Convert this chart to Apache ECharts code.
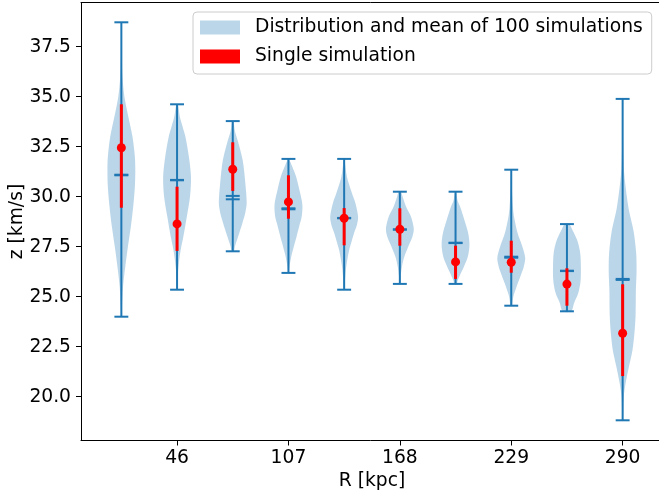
<!DOCTYPE html>
<html>
<head>
<meta charset="utf-8">
<script src="https://cdn.jsdelivr.net/npm/echarts@6/dist/echarts.min.js"></script>
<style>html,body{margin:0;padding:0;background:#fff;}#c{width:659px;height:492px;}</style>
</head>
<body>
<div id="c"></div>
<script>
// ---- data ----
const positions = [15.5, 46, 76.5, 107, 137.5, 168, 198.5, 229, 259.5, 290];
const xTickLabels = [46, 107, 168, 229, 290];
const yTickLabels = [20.0, 22.5, 25.0, 27.5, 30.0, 32.5, 35.0, 37.5];
const mins    = [24.00, 25.35, 27.27, 26.19, 25.35, 25.64, 25.64, 24.55, 24.27, 18.82];
const maxs    = [38.72, 34.62, 33.78, 31.89, 31.89, 30.25, 30.25, 31.35, 28.63, 34.89];
const means   = [31.07, 30.84, 30.04, 29.42, 28.92, 28.37, 27.70, 27.00, 26.30, 25.89];
const medians = [31.10, 30.82, 29.87, 29.37, 28.94, 28.35, 27.68, 26.95, 26.28, 25.84];
const singleValues = [32.45, 28.64, 31.37, 29.74, 28.92, 28.37, 26.74, 26.72, 25.63, 23.17];
const singleLow    = [29.45, 27.29, 30.29, 28.90, 27.57, 27.55, 25.89, 26.20, 24.55, 21.03];
const singleHigh   = [34.62, 30.50, 32.72, 31.07, 29.43, 29.42, 27.55, 27.80, 26.42, 25.62];
// violin outlines: [value, relative half-width], from top to bottom
const profile1 = [[38.72,0.01],[37.0,0.03],[36.0,0.08],[35.0,0.22],[34.0,0.5],[33.0,0.8],[32.0,0.97],[31.3,1.0],[30.5,0.97],[29.5,0.85],[28.5,0.68],[27.5,0.47],[26.5,0.28],[25.5,0.12],[24.5,0.04],[24.0,0.01]];
const profile2 = [[34.62,0.05],[34.0,0.2],[33.5,0.4],[33.0,0.6],[32.0,0.85],[31.0,1.0],[30.0,0.93],[29.0,0.7],[28.0,0.45],[27.3,0.25],[26.5,0.1],[25.8,0.03],[25.35,0.01]];
const profile3 = [[33.78,0.05],[33.3,0.15],[32.7,0.4],[31.8,0.72],[30.7,0.9],[29.7,1.0],[29.2,0.9],[28.7,0.7],[28.0,0.38],[27.5,0.15],[27.27,0.08]];
const profile4 = [[31.89,0.03],[31.5,0.28],[31.0,0.55],[30.3,0.8],[29.6,1.0],[29.0,0.95],[28.6,0.8],[28.0,0.58],[27.6,0.42],[27.0,0.2],[26.5,0.07],[26.19,0.02]];
const profile5 = [[31.89,0.02],[31.0,0.2],[30.2,0.55],[29.7,0.8],[29.0,1.0],[28.6,0.92],[28.2,0.72],[27.8,0.55],[27.3,0.35],[26.5,0.15],[25.7,0.05],[25.35,0.02]];
const profile6 = [[30.25,0.08],[30.0,0.2],[29.5,0.45],[29.0,0.8],[28.4,1.0],[28.0,0.9],[27.5,0.6],[27.0,0.32],[26.5,0.15],[26.0,0.06],[25.64,0.03]];
const profile7 = [[30.25,0.03],[29.8,0.15],[29.5,0.33],[28.8,0.65],[28.2,0.9],[27.6,1.0],[27.0,0.88],[26.5,0.6],[26.1,0.33],[25.8,0.15],[25.64,0.08]];
const profile8 = [[31.35,0.01],[30.5,0.04],[29.5,0.12],[29.0,0.2],[28.2,0.45],[27.5,0.8],[26.95,1.0],[26.5,0.9],[26.1,0.7],[25.5,0.38],[25.0,0.15],[24.55,0.05]];
const profile9 = [[28.63,0.15],[28.3,0.42],[27.8,0.75],[27.2,0.95],[26.5,1.0],[25.8,0.98],[25.2,0.82],[24.7,0.52],[24.27,0.3]];
const profile10 = [[34.89,0.01],[33.0,0.03],[31.5,0.08],[30.75,0.17],[29.4,0.43],[28.3,0.78],[27.2,0.97],[26.3,1.0],[25.3,0.95],[24.1,0.93],[23.2,0.85],[22.3,0.7],[21.5,0.45],[20.7,0.22],[20.0,0.08],[18.82,0.02]];
const profiles = [profile1, profile2, profile3, profile4, profile5, profile6, profile7, profile8, profile9, profile10];

const violinWidth = 15.25;
const half = violinWidth / 2;
const capHalf = violinWidth / 4;
const blue = '#1f77b4';
const FONT = 'DejaVu Sans';
const FS = 18.7;

const chart = echarts.init(document.getElementById('c'), null, {renderer: 'canvas'});

const idxData = positions.map((p, i) => [p, means[i], i]);

const option = {
  animation: false,
  grid: {left: 81, right: -4, top: 2.5, bottom: 51.5, containLabel: false, outerBoundsMode: 'none'},
  xAxis: [{
    type: 'value', min: -6.6, max: 312.1,
    name: 'R [kpc]', nameLocation: 'middle', nameGap: 31, nameMoveOverlap: false,
    nameTextStyle: {fontFamily: FONT, fontSize: FS, color: '#000'},
    axisLine: {show: true, onZero: false, lineStyle: {color: '#000', width: 1}},
    axisTick: {show: true, length: 5, lineStyle: {color: '#000', width: 1}, customValues: xTickLabels},
    axisLabel: {fontFamily: FONT, fontSize: FS, color: '#000', margin: 8, customValues: xTickLabels},
    splitLine: {show: false}
  }, {
    type: 'value', position: 'top', min: -6.6, max: 312.1,
    axisLine: {show: true, onZero: false, lineStyle: {color: '#000', width: 1}},
    axisTick: {show: false}, axisLabel: {show: false}, splitLine: {show: false}
  }],
  yAxis: {
    type: 'value', min: 17.81, max: 39.71,
    name: 'z [km/s]', nameLocation: 'middle', nameGap: 54, nameMoveOverlap: false,
    nameTextStyle: {fontFamily: FONT, fontSize: FS, color: '#000'},
    axisLine: {show: true, onZero: false, lineStyle: {color: '#000', width: 1}},
    axisTick: {show: true, length: 5, lineStyle: {color: '#000', width: 1}, customValues: yTickLabels},
    axisLabel: {fontFamily: FONT, fontSize: FS, color: '#000', margin: 10, customValues: yTickLabels,
      formatter: v => Number(v).toFixed(1)},
    splitLine: {show: false}
  },
  legend: {
    orient: 'vertical', left: 193, top: 12,
    padding: [6, 9, 8, 7], itemWidth: 40, itemHeight: 14, itemGap: 10,
    backgroundColor: 'rgba(255,255,255,0.8)', borderColor: '#cccccc', borderWidth: 1, borderRadius: 4,
    textStyle: {fontFamily: FONT, fontSize: FS, color: '#000', padding: [0, 0, 0, 10], lineHeight: 18},
    data: [{name: 'Distribution and mean of 100 simulations', icon: 'rect'}, {name: 'Single simulation', icon: 'rect'}]
  },
  series: [
    {
      name: 'Distribution and mean of 100 simulations', type: 'custom', z: 1,
      itemStyle: {color: 'rgba(31,119,180,0.3)'},
      encode: {x: 0, y: 1},
      data: idxData,
      renderItem: function (params, api) {
        const i = api.value(2);
        const prof = profiles[i];
        const pos = positions[i];
        const pts = [];
        for (let k = 0; k < prof.length; k++) pts.push(api.coord([pos + prof[k][1] * half, prof[k][0]]));
        for (let k = prof.length - 1; k >= 0; k--) pts.push(api.coord([pos - prof[k][1] * half, prof[k][0]]));
        return {type: 'polygon', shape: {points: pts, smooth: 0.3}, style: {fill: 'rgba(31,119,180,0.3)', stroke: null}};
      }
    },
    {
      name: 'lines', type: 'custom', z: 2,
      encode: {x: 0, y: 1},
      data: idxData,
      renderItem: function (params, api) {
        const i = api.value(2);
        const pos = positions[i];
        const seg = (x1, y1, x2, y2) => {
          const a = api.coord([x1, y1]), b = api.coord([x2, y2]);
          return {type: 'line', shape: {x1: a[0], y1: a[1], x2: b[0], y2: b[1]}, style: {stroke: blue, lineWidth: 2}};
        };
        return {type: 'group', children: [
          seg(pos, mins[i], pos, maxs[i]),
          seg(pos - capHalf, mins[i], pos + capHalf, mins[i]),
          seg(pos - capHalf, maxs[i], pos + capHalf, maxs[i]),
          seg(pos - capHalf, means[i], pos + capHalf, means[i]),
          seg(pos - capHalf, medians[i], pos + capHalf, medians[i])
        ]};
      }
    },
    {
      name: 'Single simulation', type: 'custom', z: 3,
      itemStyle: {color: '#ff0000'},
      encode: {x: 0, y: 1},
      data: positions.map((p, i) => [p, singleValues[i], i]),
      renderItem: function (params, api) {
        const i = api.value(2);
        const a = api.coord([positions[i], singleLow[i]]), b = api.coord([positions[i], singleHigh[i]]);
        return {type: 'line', shape: {x1: a[0], y1: a[1], x2: b[0], y2: b[1]}, style: {stroke: '#ff0000', lineWidth: 3}};
      }
    },
    {
      name: 'Single simulation dots', type: 'scatter', z: 4,
      symbol: 'circle', symbolSize: 9,
      itemStyle: {color: '#ff0000', opacity: 1},
      data: positions.map((p, i) => [p, singleValues[i]])
    }
  ]
};
chart.setOption(option);
</script>
</body>
</html>
